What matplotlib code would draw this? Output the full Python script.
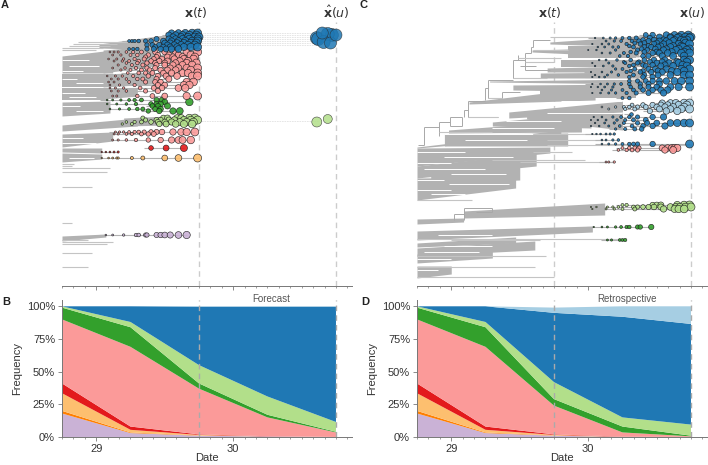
import numpy as np
import matplotlib
matplotlib.use("Agg")
import matplotlib.pyplot as plt

plt.rcParams['font.family'] = ['Liberation Sans', 'DejaVu Sans']
plt.rcParams['mathtext.fontset'] = 'dejavusans'

W, H = 708, 465
BLUE, LBLUE = '#1f78b4', '#a6cee3'
GREEN, LGREEN = '#33a02c', '#b2df8a'
PINK, RED = '#fb9a99', '#e31a1c'
LORANGE, ORANGE = '#fdbf6f', '#ff7f00'
PURPLE = '#cab2d6'
GREY = '#b2b2b2'

# frequency panels, clade frequency at each date, bottom to top of the stack
dates = [28.75, 29.25, 29.75, 30.25, 30.75]
stack_colors = [PURPLE, ORANGE, LORANGE, RED, PINK, GREEN, LGREEN, BLUE, LBLUE]
forecast_freq = [
    [0.18, 0.03, 0.010, 0.004, 0.000],
    [0.02, 0.005, 0.002, 0.000, 0.000],
    [0.135, 0.02, 0.004, 0.000, 0.000],
    [0.075, 0.025, 0.004, 0.002, 0.000],
    [0.49, 0.61, 0.35, 0.144, 0.035],
    [0.09, 0.15, 0.04, 0.02, 0.005],
    [0.01, 0.04, 0.14, 0.14, 0.075],
    [0.00, 0.12, 0.447, 0.687, 0.882],
    [0.00, 0.00, 0.003, 0.003, 0.003],
]
retro_freq = [
    [0.18, 0.03, 0.010, 0.001, 0.000],
    [0.02, 0.005, 0.002, 0.000, 0.000],
    [0.135, 0.02, 0.004, 0.000, 0.000],
    [0.075, 0.025, 0.004, 0.002, 0.001],
    [0.49, 0.61, 0.22, 0.032, 0.004],
    [0.09, 0.15, 0.05, 0.045, 0.005],
    [0.01, 0.04, 0.13, 0.07, 0.085],
    [0.00, 0.12, 0.53, 0.77, 0.77],
    [0.00, 0.00, 0.04, 0.08, 0.135],
]

# tree panel A: grey fans (date0, date1, top0, top1, bottom0, bottom1)
fans_a = [
    (29.02, 29.55, 44, 34, 48, 50), (28.75, 29.12, 56, 50, 73, 73),
    (29.05, 29.42, 50, 46, 73, 66), (28.75, 29.12, 74, 74, 87, 87),
    (29.05, 29.42, 74, 72, 87, 84), (28.75, 29.08, 88, 88, 100, 100),
    (29.05, 29.30, 88, 88, 99, 96), (28.75, 29.10, 102, 101, 116, 113),
    (28.75, 29.30, 125, 118, 131, 126), (29.20, 29.52, 118, 116, 126, 125),
    (28.75, 29.12, 134, 132, 147, 141), (28.75, 29.04, 148, 148, 152, 153),
    (28.75, 29.04, 153, 154, 162, 159), (28.75, 29.07, 236, 234, 241, 237),
]
# single branches (row, date0, date1)
tips_a = [
    (42, 28.87, 29.24), (44, 28.83, 29.15), (46, 28.80, 29.10), (48, 28.75, 29.05),
    (50, 28.75, 29.00), (164, 28.75, 28.84), (166, 28.75, 28.82), (168.5, 28.75, 29.10),
    (172, 28.75, 29.08), (187, 28.75, 28.97), (223, 28.75, 28.82), (240, 28.75, 28.94),
    (242, 28.75, 29.12), (244, 28.75, 29.08), (253, 28.75, 28.97), (267, 28.75, 28.94),
]
# white gaps between grey branches (row, date0, date1)
gaps_a = [
    (60, 28.75, 28.95), (66, 28.80, 29.02), (71, 28.75, 28.90), (79, 28.75, 28.86),
    (83, 28.85, 29.05), (93, 28.75, 28.92), (97, 28.80, 29.00), (106, 28.75, 28.88),
    (111, 28.85, 29.05), (138, 28.75, 28.90), (143, 28.75, 29.00), (158, 28.80, 28.98),
]

# tips of panel A per clade: (row, [dates])
blue_a = [
    (33, [29.55, 29.60, 29.65, 29.70, 29.74]),
    (35, [29.53, 29.58, 29.63, 29.68, 29.73]),
    (37, [29.56, 29.62, 29.67, 29.72, 29.75]),
    (39, [29.44, 29.53, 29.58, 29.63, 29.68, 29.74]),
    (41, [29.24, 29.26, 29.28, 29.31, 29.36, 29.40, 29.49, 29.55, 29.60, 29.65, 29.70, 29.74]),
    (43, [29.50, 29.54, 29.59, 29.64, 29.69, 29.73]),
    (45, [29.37, 29.41, 29.46, 29.52, 29.57, 29.62, 29.67, 29.72]),
    (47, [29.43, 29.49, 29.54, 29.59, 29.64, 29.69, 29.74]),
    (49, [29.24, 29.27, 29.30, 29.37, 29.42, 29.47, 29.51, 29.55, 29.60]),
]
pink_a = [
    (52, [29.10, 29.13, 29.16, 29.22, 29.27, 29.33, 29.43, 29.50, 29.58, 29.66, 29.74]),
    (55, [29.12, 29.18, 29.25, 29.30, 29.38, 29.45, 29.53, 29.60, 29.69]),
    (57, [29.36, 29.44, 29.52, 29.56, 29.63, 29.72]),
    (59, [29.09, 29.15, 29.20, 29.28, 29.35, 29.42, 29.48, 29.57, 29.64, 29.71]),
    (61, [29.13, 29.19, 29.24, 29.31, 29.40, 29.46, 29.52, 29.61, 29.67]),
    (63, [29.22, 29.30, 29.37, 29.43, 29.50, 29.58, 29.66, 29.73]),
    (65, [29.16, 29.26, 29.34, 29.44, 29.50, 29.56, 29.63, 29.70]),
    (68, [29.12, 29.21, 29.29, 29.37, 29.43, 29.54, 29.60, 29.66, 29.74]),
    (70, [29.18, 29.25, 29.33, 29.39, 29.47, 29.52, 29.58, 29.69]),
    (73, [29.23, 29.31, 29.36, 29.41, 29.49, 29.55, 29.63, 29.67, 29.74]),
    (76, [29.08, 29.14, 29.19, 29.27, 29.38, 29.45, 29.51, 29.59, 29.70, 29.74]),
    (79, [29.11, 29.16, 29.22, 29.30, 29.34, 29.44, 29.53]),
    (82, [29.09, 29.13, 29.24, 29.36, 29.43, 29.47, 29.66, 29.71]),
    (85, [29.10, 29.17, 29.28, 29.45, 29.50, 29.64, 29.68]),
    (88, [29.10, 29.14, 29.20, 29.32, 29.42, 29.48, 29.60, 29.65]),
    (91, [29.11, 29.16, 29.22, 29.36, 29.45]),
    (96, [29.12, 29.15, 29.30, 29.41, 29.50, 29.66, 29.74]),
    (132, [29.14, 29.17, 29.20, 29.24, 29.28, 29.31, 29.35, 29.40, 29.44, 29.48, 29.56, 29.62, 29.66, 29.72]),
    (134, [29.13, 29.16, 29.22, 29.26, 29.33, 29.38, 29.42]),
    (140, [29.12, 29.16, 29.22, 29.29, 29.38, 29.47, 29.55, 29.60, 29.63, 29.69]),
]
green_a = [
    (100, [29.08, 29.12, 29.18, 29.24, 29.28, 29.33, 29.44, 29.48]),
    (102, [29.50, 29.68]),
    (104, [29.08, 29.15, 29.22, 29.29, 29.40, 29.44, 29.47]),
    (106, [29.41, 29.45, 29.52]),
    (109, [29.10, 29.17, 29.24, 29.30, 29.34, 29.43, 29.47]),
    (111, [29.38, 29.46, 29.56, 29.61]),
]
lgreen_a = [
    (118, [29.34, 29.49, 29.52, 29.59, 29.62, 29.68, 29.72]),
    (120, [29.36, 29.44, 29.47, 29.53, 29.57, 29.64, 29.69, 29.74]),
    (122, [29.22, 29.28, 29.33, 29.40, 29.45, 29.50, 29.55, 29.61, 29.66, 29.71]),
    (124, [29.19, 29.26, 29.46, 29.51, 29.58, 29.64, 29.70]),
]
red_a = [(148, [29.40, 29.51, 29.64]), (152, [29.04, 29.07, 29.10, 29.13, 29.16])]
orange_a = [(158, [29.04, 29.09, 29.12, 29.15, 29.16, 29.26, 29.34, 29.50, 29.60, 29.74])]
purple_a = [(235, [29.07, 29.12, 29.20, 29.29, 29.31, 29.36, 29.37, 29.44, 29.47, 29.50, 29.54, 29.60, 29.66])]

# forecast circles of panel A
future_dates = [30.61, 30.62, 30.72, 30.69, 30.66, 30.71, 30.75, 30.65]
future_rows = [38, 39, 35, 34, 42, 43, 35, 33]
future_sizes = [13, 13, 13, 13, 13, 12, 12, 12]
future_green_dates = [30.61, 30.69]
future_green_rows = [122, 119]
future_green_sizes = [10, 9]
link_rows = [33, 35, 37, 39, 41, 43, 45, 121]

# tree panel C
fans_c = [
    (29.72, 30.45, 42, 35, 44, 47), (29.59, 30.37, 50, 47, 52, 57),
    (29.85, 30.35, 46, 46, 58, 58), (29.80, 30.40, 60, 60, 67, 67),
    (29.70, 30.30, 68, 66, 72, 72), (29.65, 30.40, 73, 72, 78, 78),
    (29.28, 30.40, 81, 79, 82, 84), (29.45, 30.42, 85, 84, 90, 92),
    (29.65, 30.35, 90, 90, 98, 98), (29.13, 30.05, 102, 87, 104, 100),
    (29.42, 30.25, 112, 101, 118, 112), (29.55, 30.25, 112, 113, 119, 130),
    (29.30, 30.02, 122, 113, 126, 128), (28.98, 29.95, 130, 120, 133, 132),
    (28.75, 29.80, 147, 130, 148, 136), (28.95, 29.85, 134, 133, 146, 146),
    (28.75, 29.72, 148, 147, 166, 153), (28.75, 29.62, 166, 153, 178, 166),
    (28.85, 29.50, 166, 166, 184, 180), (28.75, 29.47, 178, 177, 200, 188),
    (29.09, 30.12, 211, 203, 218, 215), (28.75, 29.09, 219, 218, 224, 222),
    (28.75, 30.03, 231, 226, 240, 232), (28.75, 29.47, 243, 237, 247, 243),
    (28.75, 29.61, 248, 241, 256, 250), (28.75, 29.30, 254, 250, 263, 258),
    (28.75, 29.00, 266, 266, 278, 274),
]
tips_c = [
    (37, 29.72, 30.10), (50, 29.60, 29.85), (58, 29.49, 29.80), (62, 29.54, 29.75),
    (78, 29.45, 29.70), (98, 29.27, 29.37), (117, 29.12, 29.34), (132, 28.91, 29.30),
    (239, 28.75, 30.23), (240, 29.00, 29.65), (256, 28.75, 29.69), (267, 28.75, 29.61),
    (277, 28.75, 29.75), (160, 29.30, 29.98), (162, 29.50, 30.19), (145, 29.70, 30.74),
    (134, 29.60, 30.19), (152, 29.60, 29.88), (140, 29.70, 30.10), (200, 28.75, 29.15),
]
gaps_c = [
    (59, 29.90, 30.45), (79, 29.90, 30.30), (101, 29.80, 30.25), (113, 29.70, 30.25),
    (121, 29.40, 29.80), (128, 29.30, 29.75), (134, 28.95, 29.60), (140, 29.10, 29.55),
    (152, 28.75, 29.10), (157, 28.95, 29.45), (163, 28.75, 29.00), (169, 28.80, 29.25),
    (174, 29.00, 29.40), (180, 28.75, 28.95), (184, 28.98, 29.42), (190, 28.75, 29.00),
    (194, 28.85, 29.10), (235, 28.90, 29.30), (246, 28.95, 29.30), (252, 28.80, 29.20),
    (259, 28.75, 29.00), (270, 28.75, 28.90),
]
# backbone of tree C, horizontal (row, date0, date1), vertical (date, row0, row1)
tree_h = [
    (145, 28.76, 28.80), (127, 28.80, 28.91), (122, 28.91, 28.99), (117, 28.99, 29.08),
    (126, 28.99, 29.08), (132, 28.91, 29.10), (110, 29.09, 29.12), (101, 29.12, 29.25),
    (117, 29.12, 29.34), (80, 29.27, 29.45), (98, 29.27, 29.37), (60, 29.45, 29.54),
    (78, 29.45, 29.62), (53, 29.54, 29.58), (47, 29.58, 29.60), (40, 29.60, 29.72),
    (88, 29.25, 29.27), (92, 29.37, 29.50), (70, 29.54, 29.72), (66, 29.50, 29.62),
    (214, 29.02, 29.09), (208, 29.09, 29.30), (212, 29.18, 29.30),
]
tree_v = [
    (28.80, 127, 145), (28.91, 122, 136), (28.99, 117, 126), (29.08, 117, 126),
    (29.09, 110, 117), (29.12, 101, 117), (29.25, 88, 100), (29.27, 80, 98),
    (29.45, 60, 78), (29.49, 55, 60), (29.54, 53, 70), (29.58, 47, 53),
    (29.60, 40, 47), (29.37, 92, 98), (29.09, 208, 220), (29.02, 214, 220),
    (29.30, 208, 212),
]

# tips of panel C per clade
blue_c = [
    (35, [30.42, 30.47, 30.57, 30.63, 30.68, 30.73]),
    (37, [30.52, 30.60, 30.66, 30.71, 30.75]),
    (38, [30.05, 30.11, 30.16, 30.20, 30.25, 30.30, 30.35, 30.45, 30.60, 30.65, 30.74]),
    (40, [30.40, 30.48, 30.55, 30.63, 30.68, 30.72]),
    (41, [30.13, 30.19, 30.24, 30.32, 30.37, 30.44, 30.52, 30.57, 30.62, 30.70]),
    (43, [30.34, 30.41, 30.50, 30.59, 30.71]),
    (44, [30.03, 30.10, 30.15, 30.28, 30.38, 30.48, 30.55, 30.66, 30.74]),
    (46, [30.30, 30.44, 30.53, 30.62, 30.68]),
    (47, [30.07, 30.12, 30.18, 30.22, 30.33, 30.41, 30.46, 30.51, 30.60, 30.69]),
    (49, [30.39, 30.49, 30.57, 30.66, 30.74]),
    (50, [30.00, 30.06, 30.20, 30.36, 30.43, 30.55, 30.64, 30.72]),
    (52, [30.31, 30.41, 30.50, 30.61, 30.70]),
    (53, [30.10, 30.16, 30.26, 30.35, 30.47, 30.52, 30.58, 30.68, 30.74]),
    (56, [30.23, 30.29, 30.40, 30.44, 30.54, 30.62, 30.70]),
    (60, [30.08, 30.13, 30.21, 30.31, 30.41, 30.48, 30.56, 30.70, 30.74]),
    (62, [30.26, 30.37, 30.45, 30.54, 30.65, 30.72]),
    (63, [30.03, 30.15, 30.27, 30.36, 30.50, 30.59, 30.66]),
    (65, [30.33, 30.40, 30.47, 30.56, 30.69]),
    (66, [30.05, 30.11, 30.18, 30.30, 30.42, 30.53, 30.62, 30.72]),
    (69, [30.20, 30.25, 30.34, 30.44, 30.49, 30.57, 30.68, 30.74]),
    (71, [30.31, 30.40, 30.51, 30.61, 30.70]),
    (72, [30.02, 30.10, 30.17, 30.28, 30.38, 30.46, 30.54, 30.65]),
    (75, [30.05, 30.14, 30.22, 30.33, 30.41, 30.51, 30.60, 30.70, 30.74]),
    (77, [30.03, 30.08, 30.12, 30.30, 30.40, 30.47]),
    (81, [30.30, 30.36, 30.42, 30.47, 30.52, 30.57, 30.63, 30.68, 30.74]),
    (84, [30.03, 30.09, 30.14, 30.19, 30.24, 30.30, 30.38, 30.44, 30.52]),
    (87, [30.02, 30.07, 30.12, 30.18, 30.31, 30.38, 30.44, 30.50, 30.60, 30.66, 30.74]),
    (90, [30.10, 30.17, 30.25, 30.33, 30.40, 30.47, 30.53, 30.58]),
    (93, [30.03, 30.09, 30.15, 30.20, 30.28, 30.35, 30.44, 30.55]),
    (98, [30.25, 30.30]),
    (114, [30.31]),
    (117, [30.04, 30.10, 30.18, 30.24, 30.30, 30.36, 30.47, 30.55]),
    (120, [30.02, 30.07, 30.13, 30.21, 30.27, 30.33, 30.42]),
    (123, [30.05, 30.12, 30.19, 30.26, 30.36, 30.43, 30.50, 30.60, 30.65, 30.70, 30.74]),
    (126, [30.02, 30.08, 30.15, 30.23, 30.32, 30.40, 30.47, 30.56]),
    (129, [30.20, 30.27, 30.34, 30.39]),
    (134, [30.03, 30.06, 30.09, 30.13, 30.16, 30.19]),
    (140, [30.10, 30.13, 30.18, 30.22]),
    (144, [30.10, 30.15, 30.20, 30.25, 30.30, 30.33, 30.36, 30.47, 30.74]),
]
lblue_c = [
    (103, [30.54, 30.60, 30.64, 30.70, 30.74]),
    (105, [30.32, 30.40, 30.47, 30.53, 30.58, 30.66, 30.72]),
    (107, [30.10, 30.20, 30.26, 30.30, 30.36, 30.42, 30.50, 30.56, 30.62, 30.70]),
    (109, [30.15, 30.27, 30.34, 30.52, 30.60, 30.68, 30.74]),
    (111, [30.45, 30.57, 30.65]),
]
pink_c = [
    (148, [30.25, 30.30, 30.34, 30.37, 30.54, 30.58, 30.61, 30.63, 30.65]),
    (150, [30.22, 30.28, 30.32, 30.36, 30.56, 30.62]),
    (162, [30.13, 30.15, 30.19]),
]
lgreen_c = [
    (205, [30.25, 30.28, 30.47, 30.50, 30.53, 30.65, 30.70, 30.74]),
    (207, [30.02, 30.06, 30.14, 30.18, 30.22, 30.33, 30.36, 30.40, 30.44, 30.48, 30.53, 30.60, 30.64, 30.67, 30.71, 30.75]),
    (209, [30.03, 30.13, 30.19, 30.25, 30.34, 30.55, 30.63, 30.66, 30.70]),
]
green_c = [
    (227, [30.04, 30.10, 30.14, 30.20, 30.24, 30.28, 30.30, 30.36, 30.38, 30.46]),
    (240, [30.14, 30.17, 30.23, 30.25, 30.27]),
]

major_ticks = [29, 30]
minor_ticks = [28.75 + k / 12 for k in range(26)]


def make_axes(left, right, top, bottom):
    return plt.axes([left / W, 1 - bottom / H, (right - left) / W, (bottom - top) / H])


def dot_area(d, shift):
    # marker grows with the time since the clade first appeared
    px = np.interp(np.array(d) - shift, [29.0, 29.2, 29.34, 29.5, 29.74], [1.2, 2.4, 4.0, 5.8, 8.0])
    return (px * 0.72) ** 2


def draw_clades(ax, clades, shift):
    for rows, color in clades:
        for row, d in rows:
            ax.hlines(row, d[0] - 0.05, d[-1], color=GREY, lw=0.8, zorder=2)
    for rows, color in clades:
        for row, d in rows:
            ax.scatter(d, [row] * len(d), s=dot_area(d, shift), c=color, edgecolors='#1a1a1a',
                       linewidths=0.45, alpha=0.9, zorder=3)


def draw_tree(ax, fans, tips, gaps):
    for d0, d1, t0, t1, b0, b1 in fans:
        ax.fill_between([d0, d1], [t0, t1], [b0, b1], color=GREY, lw=0, zorder=1)
    for row, d0, d1 in gaps:
        ax.hlines(row, d0, d1, color='white', lw=0.7, zorder=1.2)
    for row, d0, d1 in tips:
        ax.hlines(row, d0, d1, color='#c4c4c4', lw=0.8, zorder=1.4)


def date_axis(ax, labels):
    ax.set_xlim(28.75, 30.867)
    ax.set_xticks(major_ticks)
    ax.set_xticks(minor_ticks, minor=True)
    ax.tick_params(axis='x', which='major', length=3, width=0.6, color='#777777', labelsize=8,
                   labelcolor='#333333', pad=2, labelbottom=labels)
    ax.tick_params(axis='x', which='minor', length=1.5, width=0.5, color='#777777')
    for side in ['top', 'right']:
        ax.spines[side].set_visible(False)
    ax.spines['bottom'].set_color('#777777')
    ax.spines['bottom'].set_linewidth(0.7)
    ax.spines['left'].set_color('#777777')
    ax.spines['left'].set_linewidth(0.7)


def tree_panel(left, right):
    ax = make_axes(left, right, 22, 286)
    ax.set_ylim(286, 22)
    date_axis(ax, False)
    ax.spines['left'].set_visible(False)
    ax.set_yticks([])
    ax.patch.set_alpha(0)
    for d in [29.75, 30.75]:
        ax.axvline(d, color='#cccccc', lw=1, ls=(0, (4, 3)), zorder=0)
    return ax


def freq_panel(left, right, freq, label):
    ax = make_axes(left, right, 299.5, 437)
    ax.set_ylim(0, 1.052)
    date_axis(ax, True)
    ax.stackplot(dates, freq, colors=stack_colors, lw=0, zorder=1)
    for d in [29.75, 30.75]:
        ax.axvline(d, color='#aaaaaa', lw=1, ls=(0, (4, 3)), zorder=2)
    ax.set_yticks([0, 0.25, 0.5, 0.75, 1])
    ax.set_yticklabels(['0%', '25%', '50%', '75%', '100%'])
    ax.tick_params(axis='y', length=3, width=0.6, color='#777777', labelsize=8, labelcolor='#333333', pad=2)
    ax.set_xlabel('Date', fontsize=8, color='#333333', labelpad=-0.5)
    ax.set_ylabel('Frequency', fontsize=8, color='#333333', labelpad=3)
    ax.text(30.28, 1.055, label, fontsize=7, color='#555555', ha='center', va='center')
    return ax


fig = plt.figure(figsize=(W / 100, H / 100), dpi=100)

ax_a = tree_panel(62, 352)
draw_tree(ax_a, fans_a, tips_a, gaps_a)
draw_clades(ax_a, [(purple_a, PURPLE), (orange_a, LORANGE), (red_a, RED), (lgreen_a, LGREEN),
                   (green_a, GREEN), (pink_a, PINK), (blue_a, BLUE)], 0)
ax_a.hlines(link_rows, 29.75, 30.62, color='#e2e2e2', lw=0.6, ls=(0, (2, 1)), zorder=1)
ax_a.scatter(future_dates, future_rows, s=(np.array(future_sizes) * 0.72) ** 2, c=BLUE,
             edgecolors='#2a2a2a', linewidths=0.4, alpha=0.85, zorder=4)
ax_a.scatter(future_green_dates, future_green_rows, s=(np.array(future_green_sizes) * 0.72) ** 2,
             c=LGREEN, edgecolors='#2a2a2a', linewidths=0.4, alpha=0.85, zorder=4)

ax_c = tree_panel(417, 707)
draw_tree(ax_c, fans_c, tips_c, gaps_c)
ax_c.hlines([r for r, _, _ in tree_h], [a for _, a, _ in tree_h], [b for _, _, b in tree_h],
            color='#a8a8a8', lw=0.7, zorder=1)
ax_c.vlines([d for d, _, _ in tree_v], [a for _, a, _ in tree_v], [b for _, _, b in tree_v],
            color='#a8a8a8', lw=0.7, zorder=1)
draw_clades(ax_c, [(green_c, GREEN), (lgreen_c, LGREEN), (pink_c, PINK), (lblue_c, LBLUE), (blue_c, BLUE)], 1)

freq_panel(62, 352, forecast_freq, 'Forecast')
freq_panel(417, 707, retro_freq, 'Retrospective')

for x, y, s in [(1, 5, 'A'), (360, 5, 'C'), (2, 302, 'B'), (361, 302, 'D')]:
    fig.text(x / W, 1 - y / H, s, fontsize=8, fontweight='bold', color='#222222', va='center')
for x, s in [(196, r'$\mathbf{x}(t)$'), (336, r'$\hat{\mathbf{x}}(u)$'), (550, r'$\mathbf{x}(t)$'), (692, r'$\mathbf{x}(u)$')]:
    fig.text(x / W, 1 - 12 / H, s, fontsize=9, color='#333333', ha='center', va='center')

plt.savefig('out.png', dpi=100)
